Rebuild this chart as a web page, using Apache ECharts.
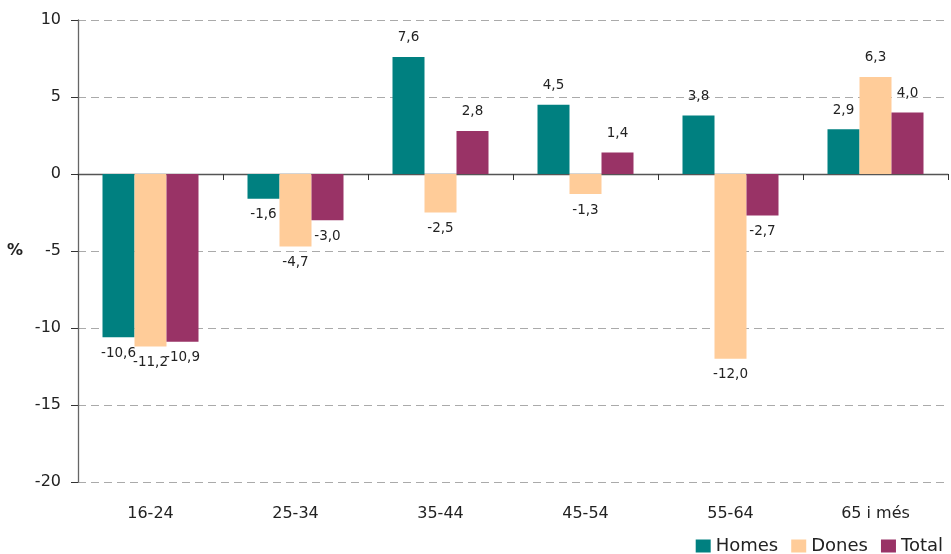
<!DOCTYPE html>
<html><head><meta charset="utf-8">
<script src="https://cdn.jsdelivr.net/npm/echarts@6/dist/echarts.min.js"></script>
<style>html,body{margin:0;padding:0;background:#fff}#c{width:951px;height:554px}</style>
</head><body><div id="c"></div>
<script>
const categories = ['16-24', '25-34', '35-44', '45-54', '55-64', '65 i més'];
const homes = [-10.6, -1.6, 7.6, 4.5, 3.8, 2.9];
const dones = [-11.2, -4.7, -2.5, -1.3, -12.0, 6.3];
const total = [-10.9, -3.0, 2.8, 1.4, -2.7, 4.0];
const yTicks = [-20, -15, -10, -5, 0, 5, 10];

const FONT = 'DejaVu Sans';
function fmt(v) { return v.toFixed(1).replace('.', ','); }
function items(arr) {
  return arr.map(v => ({
    value: v,
    label: { position: v < 0 ? 'bottom' : 'top', distance: v < 0 ? 9 : 12 }
  }));
}
function series(name, arr, color) {
  return {
    name: name, type: 'bar', xAxisIndex: 0, data: items(arr),
    barWidth: 32, barGap: '0%',
    itemStyle: { color: color },
    label: { show: true, color: '#222', fontFamily: FONT, fontSize: 13.5,
      formatter: p => fmt(p.value) }
  };
}
const chart = echarts.init(document.getElementById('c'));
chart.setOption({
  animation: false,
  backgroundColor: '#fff',
  grid: { left: 78, right: 3, top: 20, bottom: 72 },
  legend: {
    right: 3, top: 532, itemWidth: 15, itemHeight: 13, itemGap: 13,
    icon: 'rect',
    textStyle: { fontFamily: FONT, fontSize: 18, color: '#222' },
    data: ['Homes', 'Dones', 'Total']
  },
  xAxis: [
    { type: 'category', data: categories, position: 'bottom',
      axisLine: { show: false, onZero: false }, axisTick: { show: false },
      axisLabel: { margin: 24, fontFamily: FONT, fontSize: 16, color: '#222' },
      splitLine: { show: false } },
    { type: 'category', data: categories, position: 'bottom',
      axisLine: { show: true, onZero: true, lineStyle: { color: '#555', width: 1.3 } },
      axisTick: { show: true, interval: 0, length: 6, lineStyle: { color: '#333' } },
      axisLabel: { show: false }, splitLine: { show: false } }
  ],
  yAxis: {
    type: 'value', min: yTicks[0], max: yTicks[yTicks.length - 1], interval: 5,
    name: '%', nameLocation: 'middle', nameRotate: 0, nameGap: 55,
    nameTextStyle: { fontFamily: FONT, fontSize: 16, fontWeight: 'bold', color: '#222' },
    axisLine: { show: true, lineStyle: { color: '#666', width: 1.3 } },
    axisTick: { show: true, length: 7, lineStyle: { color: '#333' } },
    axisLabel: { margin: 17, fontFamily: FONT, fontSize: 16, color: '#222' },
    splitLine: { show: true, lineStyle: { color: '#aaa', type: [8, 5], width: 1.2 } }
  },
  series: [
    series('Homes', homes, '#008080'),
    series('Dones', dones, '#FFCC99'),
    series('Total', total, '#993366')
  ]
});
</script>
</body></html>
